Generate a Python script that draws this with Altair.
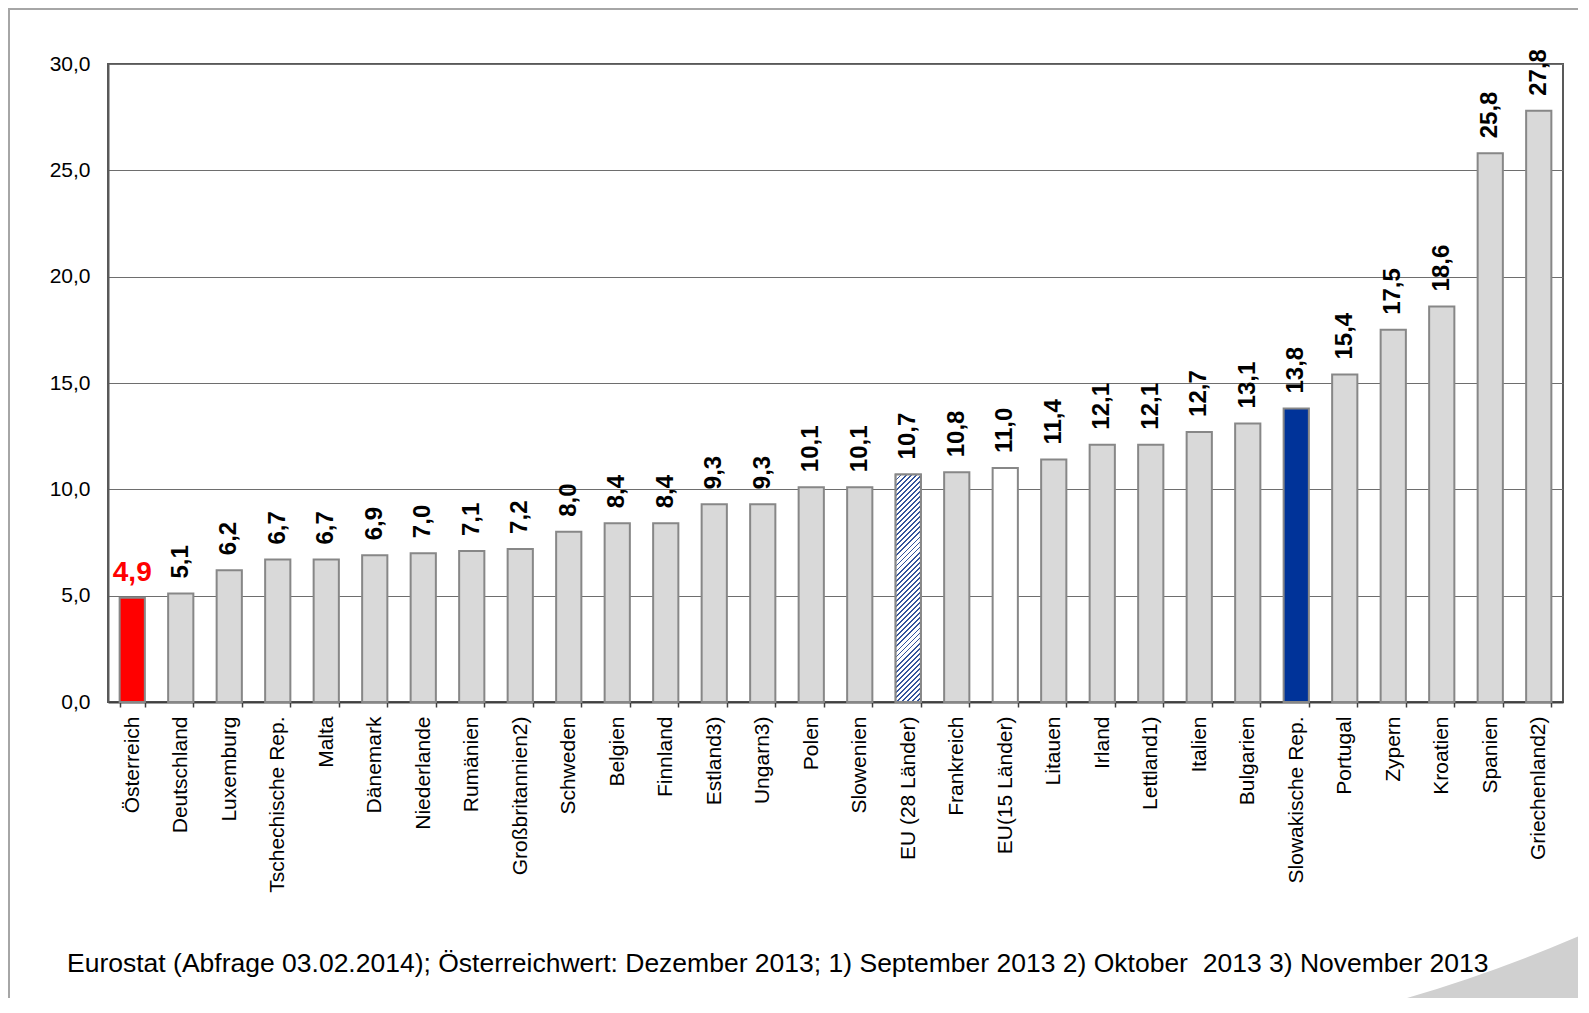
import altair as alt
import pandas as pd
from urllib.parse import quote

countries = ["Österreich", "Deutschland", "Luxemburg", "Tschechische Rep.", "Malta",
             "Dänemark", "Niederlande", "Rumänien", "Großbritannien2)", "Schweden",
             "Belgien", "Finnland", "Estland3)", "Ungarn3)", "Polen", "Slowenien",
             "EU (28 Länder)", "Frankreich", "EU(15 Länder)", "Litauen", "Irland",
             "Lettland1)", "Italien", "Bulgarien", "Slowakische Rep.", "Portugal",
             "Zypern", "Kroatien", "Spanien", "Griechenland2)"]
values = [4.9, 5.1, 6.2, 6.7, 6.7, 6.9, 7.0, 7.1, 7.2, 8.0,
          8.4, 8.4, 9.3, 9.3, 10.1, 10.1, 10.7, 10.8, 11.0, 11.4,
          12.1, 12.1, 12.7, 13.1, 13.8, 15.4, 17.5, 18.6, 25.8, 27.8]
y_ticks = [0, 5, 10, 15, 20, 25, 30]
footnote = "Eurostat (Abfrage 03.02.2014); Österreichwert: Dezember 2013; 1) September 2013 2) Oktober \u00a02013 3) November 2013"

special = {"Österreich": "at", "Slowakische Rep.": "sk", "EU (28 Länder)": "eu28", "EU(15 Länder)": "eu15"}
df = pd.DataFrame({"land": countries, "wert": values})
df["kind"] = [special.get(c, "other") for c in countries]

FONT = "Liberation Sans"
W, H = 1455, 638
PAD = 0.48

x_enc = alt.X("land:N", sort=countries, scale=alt.Scale(domain=countries, paddingInner=PAD, paddingOuter=PAD / 2),
              axis=alt.Axis(title=None, labelAngle=270, labelAlign="right", labelBaseline="middle",
                            labelFontSize=21, labelFont=FONT, labelColor="black", labelPadding=9,
                            tickBand="extent", tickSize=5, tickColor="#404040", tickWidth=1.5,
                            domainColor="#404040", domainWidth=2, grid=False))
y_enc = alt.Y("wert:Q", scale=alt.Scale(domain=[0, 30], nice=False),
              axis=alt.Axis(title=None, values=y_ticks,
                            labelExpr="replace(format(datum.value, '.1f'), '.', ',')",
                            labelFontSize=21, labelFont=FONT, labelColor="black", labelPadding=18,
                            tickSize=0, domainColor="#595959", domainWidth=2,
                            grid=True, gridColor="#6e6e6e", gridWidth=1))

base = alt.Chart(df)

bars = base.mark_bar(stroke="#878787", strokeWidth=2).encode(
    x=x_enc, y=y_enc,
    fill=alt.Fill("kind:N", scale=alt.Scale(domain=["at", "sk", "eu28", "eu15", "other"],
                                           range=["#ff0000", "#003399", "#ffffff", "#ffffff", "#d9d9d9"]),
                  legend=None))

# hatched EU-28 bar via a striped linear gradient (stripes at ~45 degrees)
eu_val = values[countries.index("EU (28 Länder)")]
bw = W / len(countries) * (1 - PAD)
bh = eu_val / 30 * H
k = bh / bw
a = (1 + k) / (1 + k * k)
n_stripes = int((bw + bh) / 5.0)
stops = []
for i in range(n_stripes):
    o0 = i / n_stripes
    o1 = (i + 0.36) / n_stripes
    o2 = (i + 1) / n_stripes
    stops += [{"offset": o0, "color": "#34549c"}, {"offset": o1, "color": "#34549c"},
              {"offset": o1, "color": "#ffffff"}, {"offset": o2, "color": "#ffffff"}]
hatch = {"gradient": "linear", "x1": 0, "y1": 0, "x2": a, "y2": a * k, "stops": stops}

eu_bar = base.transform_filter(alt.datum.kind == "eu28").mark_bar(
    fill=hatch, stroke="#878787", strokeWidth=2).encode(x=x_enc, y=y_enc)

labels = base.transform_filter(alt.datum.kind != "at").transform_calculate(
    lbl="replace(format(datum.wert, '.1f'), '.', ',')"
).mark_text(angle=270, align="left", baseline="middle", dx=15, font=FONT, fontSize=24,
            fontWeight="bold", color="black").encode(x=x_enc, y=y_enc, text="lbl:N")

at_label = base.transform_filter(alt.datum.kind == "at").transform_calculate(
    lbl="replace(format(datum.wert, '.1f'), '.', ',')"
).mark_text(align="center", baseline="alphabetic", dy=-17, font=FONT, fontSize=28,
            fontWeight="bold", color="#ff0000").encode(x=x_enc, y=y_enc, text="lbl:N")

one = alt.Data(values=[{"t": footnote}])
frame = alt.Chart(one).mark_rect(fill="transparent", stroke="#a6a6a6", strokeWidth=2).encode(
    x=alt.value(-99), y=alt.value(-55), x2=alt.value(1700), y2=alt.value(1200))

note = alt.Chart(one).mark_text(align="left", baseline="alphabetic", font=FONT, fontSize=26.5,
                                color="black").encode(x=alt.value(-41), y=alt.value(908), text="t:N")

svg = ("<svg xmlns='http://www.w3.org/2000/svg' width='260' height='90'>"
       "<path d='M0,85 Q125,55 250,0 L260,0 L260,90 L0,90 Z' fill='#d0d0d0'/></svg>")
uri = "data:image/svg+xml;charset=utf-8," + quote(svg)
deco = alt.Chart(alt.Data(values=[{"u": uri}])).mark_image(
    width=260, height=90, align="left", baseline="top", aspect=False).encode(
    url="u:N", x=alt.value(1235), y=alt.value(866))

chart = alt.layer(frame, deco, bars, eu_bar, labels, at_label, note).properties(
    width=W, height=H,
    autosize=alt.AutoSizeParams(type="none"),
    padding={"left": 100, "top": 56, "right": 15, "bottom": 296},
    background="white"
).configure_view(stroke="#595959", strokeWidth=2)

chart.save("out.html", embed_options={"renderer": "svg", "actions": False})
